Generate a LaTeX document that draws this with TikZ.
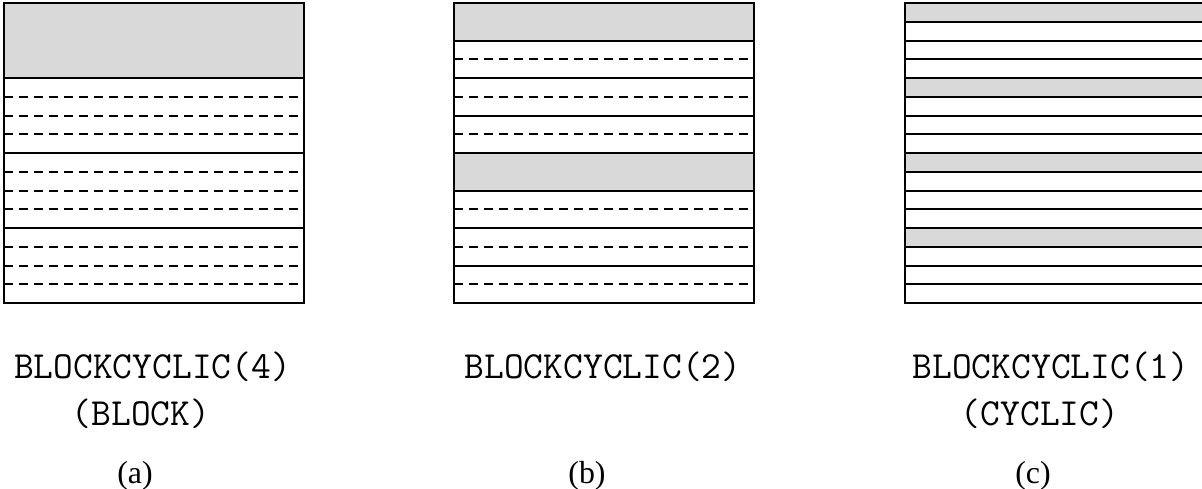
\documentclass[tikz,border=0pt]{standalone}
\usepackage{fontspec}
\setmainfont{Liberation Serif}
\begin{document}
\begin{tikzpicture}[x=1bp,y=-1bp,
  frame/.style={draw=black,line width=2bp},
  owned/.style={fill=black!15,draw=black,line width=2bp},
  rowline/.style={draw=black,line width=2bp},
  subline/.style={draw=black,line width=2bp,dash pattern=on 9bp off 6bp},
  codelabel/.style={font=\ttfamily\fontsize{38.5}{46}\selectfont,anchor=base,inner sep=0pt},
  caption/.style={font=\fontsize{32}{38}\selectfont,anchor=base,inner sep=0pt}]
\useasboundingbox (0,0) rectangle (1202,489);
\clip (0,0) rectangle (1202,489);

% 16 rows of 18.75 per matrix; row edges rounded to whole units
% (a) block size 4: one owned block of four rows
\begin{scope}[shift={(4,3)}]
  \draw[owned] (0,0) rectangle (300,75);
  \foreach \y in {150,225} \draw[rowline] (0,\y) -- (300,\y);
  \foreach \k [evaluate=\k as \y using round(\k*18.75)] in {5,6,7,9,10,11,13,14,15}
    \draw[subline] (0,\y) -- (300,\y);
  \draw[frame] (0,0) rectangle (300,300);
\end{scope}

% (b) block size 2: owned blocks at rows 0-1 and 8-9
\begin{scope}[shift={(454,3)}]
  \draw[owned] (0,0) rectangle (300,38);
  \draw[owned] (0,150) rectangle (300,188);
  \foreach \y in {75,113,225,263} \draw[rowline] (0,\y) -- (300,\y);
  \foreach \k [evaluate=\k as \y using round(\k*18.75)] in {3,5,7,11,13,15}
    \draw[subline] (0,\y) -- (300,\y);
  \draw[frame] (0,0) rectangle (300,300);
\end{scope}

% (c) block size 1: every fourth row owned
\begin{scope}[shift={(905,3)}]
  \foreach \k [evaluate=\k as \y using round(\k*18.75),
               evaluate=\k as \yb using round(\k*18.75+18.75)] in {0,4,8,12}
    \draw[owned] (0,\y) rectangle (300,\yb);
  \foreach \k [evaluate=\k as \y using round(\k*18.75)] in {2,3,6,7,10,11,14,15}
    \draw[rowline] (0,\y) -- (300,\y);
  \draw[frame] (0,0) rectangle (300,300);
\end{scope}

% labels
\node[codelabel] (la1) at (152.5,379) {BLOCKCYCLIC(4)};
\node[codelabel] (la2) at (141,425) {(BLOCK)};
\node[caption]   (la3) at (135,483) {(a)};
\node[codelabel] (lb1) at (603,379) {BLOCKCYCLIC(2)};
\node[caption]   (lb3) at (587,483) {(b)};
\node[codelabel] (lc1) at (1051,379) {BLOCKCYCLIC(1)};
\node[codelabel] (lc2) at (1040,425) {(CYCLIC)};
\node[caption]   (lc3) at (1033,483) {(c)};
\end{tikzpicture}
\end{document}
